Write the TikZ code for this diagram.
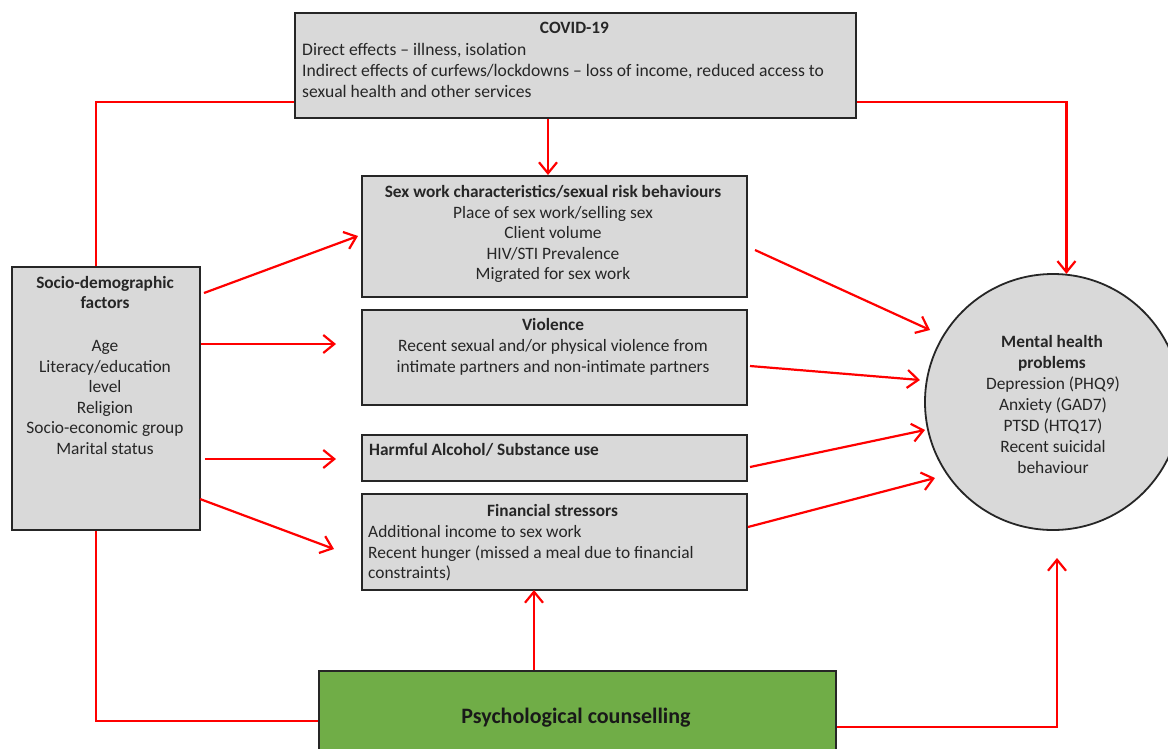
\documentclass[tikz,border=0pt]{standalone}
\usepackage{fontspec}
\setmainfont{Carlito}
\usetikzlibrary{arrows.meta}
\definecolor{boxgray}{HTML}{D9D9D9}
\definecolor{txt}{HTML}{262626}
\definecolor{greenbox}{HTML}{70AD47}
\definecolor{redline}{HTML}{FF0000}
\begin{document}
\begin{tikzpicture}[x=1pt,y=-1pt,
  box/.style={draw=black!85, line width=1.8pt, fill=boxgray, inner sep=0pt, anchor=north west},
  conn/.style={redline, line width=2.2pt},
  arr/.style={conn, -{Straight Barb[length=11pt,width=18pt,line width=2.2pt]}},
  tx/.style={text=txt, font=\fontsize{17.4}{20.8}\selectfont, inner sep=0pt, align=center, anchor=base},
  txl/.style={tx, align=left, anchor=base west},
  ttl/.style={text=txt, font=\bfseries\fontsize{17.3}{20.8}\selectfont, inner sep=0pt, align=center, anchor=base},
]
\useasboundingbox (0,0) rectangle (1168,748);
\clip (0,0) rectangle (1168,748);
\fill[white] (0,0) rectangle (1168,748);

% boxes
\node[box, minimum width=561pt, minimum height=105pt] (covid) at (294,12) {};
\node[box, minimum width=385pt, minimum height=121pt] (sexw) at (361,175) {};
\node[box, minimum width=385pt, minimum height=95pt] (viol) at (361,309) {};
\node[box, minimum width=385pt, minimum height=46pt] (alc) at (361,434) {};
\node[box, minimum width=385pt, minimum height=96pt] (fin) at (361,493) {};
\node[box, minimum width=188pt, minimum height=263pt] (socio) at (11,266) {};
\node[draw=black!85, line width=1.8pt, fill=boxgray, circle, minimum size=256pt, inner sep=0pt] (mh) at (1053,402) {};
\node[draw=black!85, line width=1.8pt, fill=greenbox, inner sep=0pt, anchor=north west, minimum width=517pt, minimum height=100pt] (green) at (318,670) {};

% texts (anchor base = baseline of the last line)
\node[ttl] (tcovid) at (574.5,33.5) {COVID-19};
\node[txl, font=\fontsize{17.6}{21}\selectfont] (bcovid) at (302,97.5) {Direct effects -- illness, isolation\\Indirect effects of curfews/lockdowns -- loss of income, reduced access to\\sexual health and other services};

\node[ttl] (tsexw) at (553,197.5) {Sex work characteristics/sexual risk behaviours};
\node[tx, font=\fontsize{17.4}{20.3}\selectfont] (bsexw) at (553,279.5) {Place of sex work/selling sex\\Client volume\\HIV/STI Prevalence\\Migrated for sex work};

\node[ttl] (tviol) at (553,330.5) {Violence};
\node[tx, font=\fontsize{17.4}{21}\selectfont] (bviol) at (553,372.5) {Recent sexual and/or physical violence from\\intimate partners and non-intimate partners};

\node[ttl, anchor=base west] (talc) at (369,455.5) {Harmful Alcohol/ Substance use};

\node[ttl] (tfin) at (552.5,516.5) {Financial stressors};
\node[txl, font=\fontsize{17.4}{20.5}\selectfont] (bfin) at (368,578.5) {Additional income to sex work\\Recent hunger (missed a meal due to financial\\constraints)};

\node[ttl, font=\bfseries\fontsize{17.3}{20}\selectfont] (tsocio) at (105,308.5) {Socio-demographic\\factors};
\node[tx, font=\fontsize{17.4}{20.6}\selectfont] (bsocio) at (105,454.5) {Age\\Literacy/education\\level\\Religion\\Socio-economic group\\Marital status};

\node[ttl, font=\bfseries\fontsize{17.3}{21}\selectfont] (tmh) at (1052,368.5) {Mental health\\problems};
\node[tx, font=\fontsize{17.4}{21}\selectfont] (bmh) at (1053,473.5) {Depression (PHQ9)\\Anxiety (GAD7)\\PTSD (HTQ17)\\Recent suicidal\\behaviour};

\node[text=black!90, font=\bfseries\fontsize{22}{24}\selectfont, inner sep=0pt, anchor=base] (tgreen) at (576,723) {Psychological counselling};

% free ends
\coordinate (sxtop) at (548,175);
\coordinate (s1) at (204,293);
\coordinate (e1) at (358,236);
\coordinate (e2) at (336,344);
\coordinate (e3) at (336,459);
\coordinate (s4) at (200,499);
\coordinate (e4) at (334,549);
\coordinate (m1s) at (755,250);
\coordinate (m1) at (930,330);
\coordinate (m2s) at (750,366);
\coordinate (m2) at (920,380);
\coordinate (m3s) at (750,467);
\coordinate (m3) at (925,430);
\coordinate (m4s) at (748,527);
\coordinate (m4) at (935,478);
\coordinate (gup) at (534,590);
\coordinate (mhb) at (1057,558);

% connectors
\draw[conn] ([yshift=17pt]covid.south west) -| ([xshift=-10pt]socio.north);
\draw[arr] ([yshift=17pt]covid.south east) -| (mh.84);
\draw[arr] (covid.south -| sxtop) -- (sxtop);
\draw[arr] (s1) -- (e1);
\draw[arr] (socio.east |- e2) -- (e2);
\draw[arr] ([xshift=4pt]socio.east |- e3) -- (e3);
\draw[arr] (s4) -- (e4);
\draw[arr] (m1s) -- (m1);
\draw[arr] (m2s) -- (m2);
\draw[arr] (m3s) -- (m3);
\draw[arr] (m4s) -- (m4);
\draw[conn] ([xshift=-10pt]socio.south) |- (green.west);
\draw[arr] (green.north -| gup) -- (gup);
\draw[arr] ([yshift=-6pt]green.east) -| (mhb);
\end{tikzpicture}
\end{document}
